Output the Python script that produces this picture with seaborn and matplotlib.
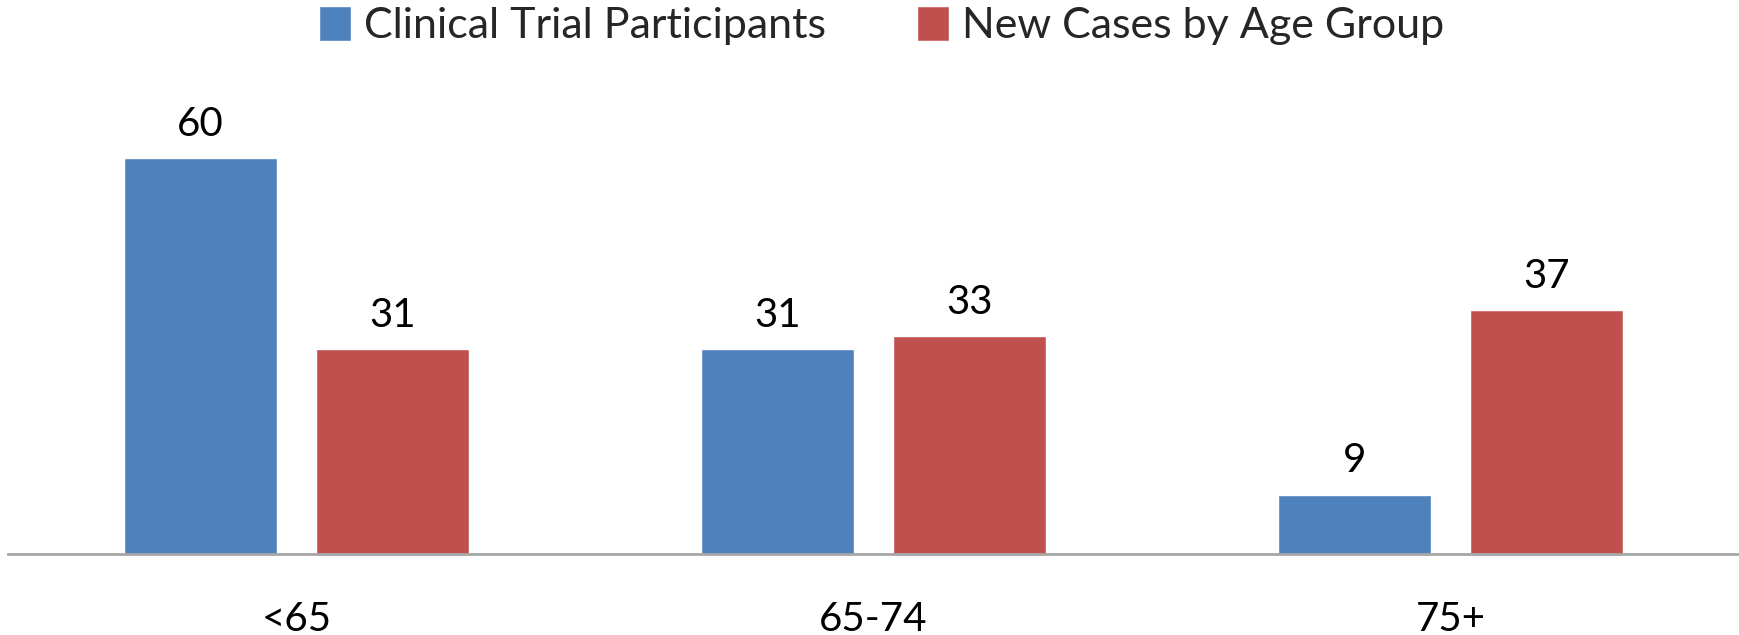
import matplotlib
matplotlib.use("Agg")
import matplotlib.pyplot as plt
import seaborn as sns
import pandas as pd

categories = ["<65", "65-74", "75+"]
series_names = ["Clinical Trial Participants", "New Cases by Age Group"]
trial_values = [60, 31, 9]
cases_values = [31, 33, 37]
colors = ["#4F81BD", "#C0504D"]

df = pd.DataFrame({
    "Age": categories * 2,
    "Series": [series_names[0]] * 3 + [series_names[1]] * 3,
    "Value": trial_values + cases_values,
})

sns.set_theme(style="white")
plt.rcParams["font.family"] = ["Lato", "DejaVu Sans"]

fig = plt.figure(figsize=(17.39, 6.35), dpi=100)
ax = fig.add_axes([8 / 1739, 1 - 554 / 635, 1 - 8 / 1739, (554 - 92) / 635])

sns.barplot(data=df, x="Age", y="Value", hue="Series", palette=colors,
            width=0.666, gap=0.2, ax=ax, legend=True, saturation=1)

ax.set_xlim(-0.5, 2.5)
ax.set_ylim(0, 70)
for c in ax.containers:
    ax.bar_label(c, padding=11, fontsize=29, color="black")

for s in ["top", "right", "left"]:
    ax.spines[s].set_visible(False)
ax.spines["bottom"].set_color("#A6A6A6")
ax.spines["bottom"].set_linewidth(2)
ax.set_yticks([])
ax.set_xlabel("")
ax.set_ylabel("")
ax.tick_params(axis="x", length=0, pad=34, labelsize=29, colors="black")

handles, labels = ax.get_legend_handles_labels()
ax.get_legend().remove()
fig.legend(handles, labels, loc="center", bbox_to_anchor=(0.507, 0.96),
           ncol=2, frameon=False, fontsize=31, handlelength=0.75, handleheight=0.9,
           handletextpad=0.3, columnspacing=2.1)

fig.savefig("out.png", dpi=100)
